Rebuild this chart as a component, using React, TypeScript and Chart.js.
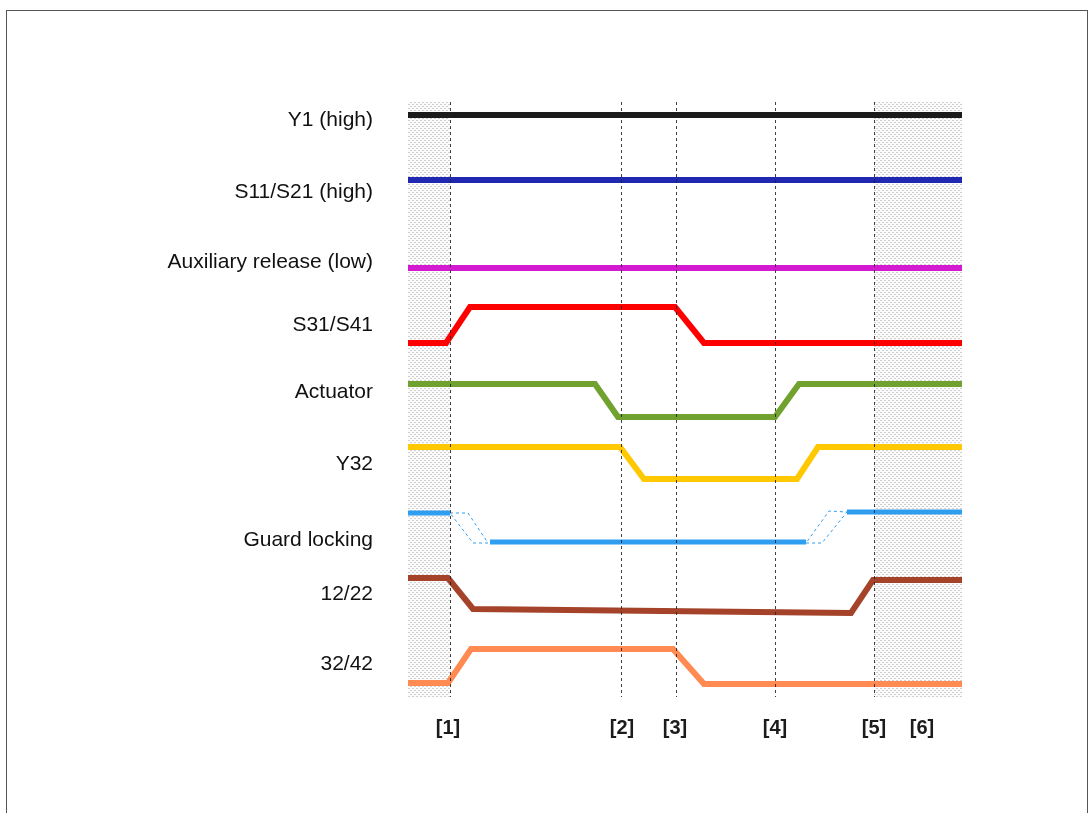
import React, { useEffect, useRef } from "react";
import { Chart, registerables } from "chart.js";

Chart.register(...registerables);

// ---- data (time units along x, signal level units along y) ----
const timeRange = [0, 554];
const levelRange = [0, 595];

const signalNames = [
  "Y1 (high)",
  "S11/S21 (high)",
  "Auxiliary release (low)",
  "S31/S41",
  "Actuator",
  "Y32",
  "Guard locking",
  "12/22",
  "32/42",
];
const signalLabelLevels = [577, 505, 434.5, 371.5, 305, 233, 157, 102.5, 32.5];

const y1Points = [[0, 582], [554, 582]];
const s11Points = [[0, 517], [554, 517]];
const auxPoints = [[0, 429], [554, 429]];
const s31Points = [[0, 354], [38, 354], [62, 390], [267, 390], [296, 354], [554, 354]];
const actuatorPoints = [[0, 313], [187, 313], [210, 280], [367, 280], [391, 313], [554, 313]];
const y32Points = [[0, 250], [212, 250], [236, 218], [389, 218], [410, 250], [554, 250]];
const guardHighStart = [[0, 184], [42, 184]];
const guardLow = [[82, 155], [398, 155]];
const guardHighEnd = [[439, 185], [554, 185]];
const guardTransition1 = [[42, 184], [60, 184], [80, 154], [65, 154], [42, 184]];
const guardTransition2 = [[398, 154], [414, 154], [439, 185], [421, 186], [398, 154]];
const p1222Points = [[0, 119], [40, 119], [65, 88], [443, 84], [465, 117], [554, 117]];
const p3242Points = [[0, 14], [40, 14], [63, 48], [265, 48], [296, 13], [554, 13]];

const markerLineTimes = [42, 213, 268, 367, 466];
const markerLabels = ["[1]", "[2]", "[3]", "[4]", "[5]", "[6]"];
const markerLabelTimes = [40, 214, 267, 367, 466, 514];
const markerLabelLevel = -31;
const shadedRanges = [[0, 42], [466, 554]];

const signalLabelTime = -35;

const toXY = (pts: number[][]) => pts.map(([x, y]) => ({ x, y }));

function makePattern(ctx: CanvasRenderingContext2D) {
  const c = document.createElement("canvas");
  c.width = 4;
  c.height = 4;
  const p = c.getContext("2d")!;
  p.fillStyle = "#fbfbfb";
  p.fillRect(0, 0, 4, 4);
  p.fillStyle = "#d0d0d0";
  p.fillRect(0, 0, 2, 1);
  p.fillRect(2, 2, 2, 1);
  return ctx.createPattern(c, "repeat");
}

const backgroundPlugin = {
  id: "timingBackground",
  beforeDatasetsDraw(chart: any) {
    const { ctx } = chart;
    const xs = chart.scales.x;
    const ys = chart.scales.y;
    ctx.save();
    const pat = makePattern(ctx);
    ctx.fillStyle = pat || "#ececec";
    const top = ys.getPixelForValue(levelRange[1]);
    const bottom = ys.getPixelForValue(levelRange[0]);
    shadedRanges.forEach(([a, b]) => {
      const x0 = xs.getPixelForValue(a);
      const x1 = xs.getPixelForValue(b);
      ctx.fillRect(x0, top, x1 - x0, bottom - top);
    });
    ctx.restore();
  },
  afterDatasetsDraw(chart: any) {
    const { ctx } = chart;
    const xs = chart.scales.x;
    const ys = chart.scales.y;
    const top = ys.getPixelForValue(levelRange[1]);
    const bottom = ys.getPixelForValue(levelRange[0]);
    ctx.save();
    ctx.strokeStyle = "rgba(30,30,30,0.85)";
    ctx.lineWidth = 1;
    ctx.setLineDash([3, 3]);
    markerLineTimes.forEach((t) => {
      const x = Math.round(xs.getPixelForValue(t)) + 0.5;
      ctx.beginPath();
      ctx.moveTo(x, top);
      ctx.lineTo(x, bottom);
      ctx.stroke();
    });
    ctx.restore();
  },
  afterDraw(chart: any) {
    const { ctx } = chart;
    const xs = chart.scales.x;
    const ys = chart.scales.y;
    ctx.save();
    ctx.fillStyle = "#111";
    ctx.font = '21px "Liberation Sans", Arial, sans-serif';
    ctx.textAlign = "right";
    ctx.textBaseline = "middle";
    signalNames.forEach((name, i) => {
      ctx.fillText(name, xs.getPixelForValue(signalLabelTime), ys.getPixelForValue(signalLabelLevels[i]));
    });
    ctx.font = 'bold 20px "Liberation Sans", Arial, sans-serif';
    ctx.textAlign = "center";
    ctx.fillStyle = "#1c1c1c";
    markerLabels.forEach((lab, i) => {
      ctx.fillText(lab, xs.getPixelForValue(markerLabelTimes[i]), ys.getPixelForValue(markerLabelLevel));
    });
    ctx.restore();
  },
};

function solid(points: number[][], color: string, width = 6) {
  return {
    data: toXY(points),
    borderColor: color,
    backgroundColor: color,
    borderWidth: width,
    pointRadius: 0,
    borderCapStyle: "butt",
    borderJoinStyle: "miter",
    tension: 0,
    fill: false,
    clip: false,
  };
}

function dashed(points: number[][], color: string) {
  return {
    data: toXY(points),
    borderColor: color,
    borderWidth: 1,
    borderDash: [3, 3],
    pointRadius: 0,
    tension: 0,
    fill: false,
    clip: false,
  };
}

export default function App() {
  const ref = useRef<HTMLCanvasElement | null>(null);
  useEffect(() => {
    if (!ref.current) return;
    const guardColor = "#2f9ef0";
    const chart = new Chart(ref.current, {
      type: "line",
      data: {
        datasets: [
          solid(y1Points, "#1b1b1b"),
          solid(s11Points, "#2027b0"),
          solid(auxPoints, "#d41ad0"),
          solid(s31Points, "#ff0000"),
          solid(actuatorPoints, "#71a12e"),
          solid(y32Points, "#ffc800"),
          solid(guardHighStart, guardColor, 5),
          solid(guardLow, guardColor, 5),
          solid(guardHighEnd, guardColor, 5),
          dashed(guardTransition1, guardColor),
          dashed(guardTransition2, guardColor),
          solid(p1222Points, "#a4432a"),
          solid(p3242Points, "#ff8b52"),
        ] as any,
      },
      options: {
        animation: false,
        responsive: false,
        maintainAspectRatio: false,
        layout: { padding: { left: 408, top: 102, right: 126, bottom: 116 } },
        plugins: { legend: { display: false }, tooltip: { enabled: false } },
        scales: {
          x: { type: "linear", min: timeRange[0], max: timeRange[1], display: false },
          y: { type: "linear", min: levelRange[0], max: levelRange[1], display: false },
        },
      },
      plugins: [backgroundPlugin],
    });
    return () => chart.destroy();
  }, []);

  return (
    <div style={{ position: "fixed", left: 0, top: 0, width: 1088, height: 813, overflow: "hidden", background: "#fff" }}>
      <div
        style={{
          position: "absolute",
          left: 6,
          top: 10,
          right: 0,
          height: 900,
          border: "1px solid #555",
          boxSizing: "border-box",
        }}
      />
      <canvas ref={ref} width={1088} height={813} style={{ position: "absolute", left: 0, top: 0, width: 1088, height: 813 }} />
    </div>
  );
}
